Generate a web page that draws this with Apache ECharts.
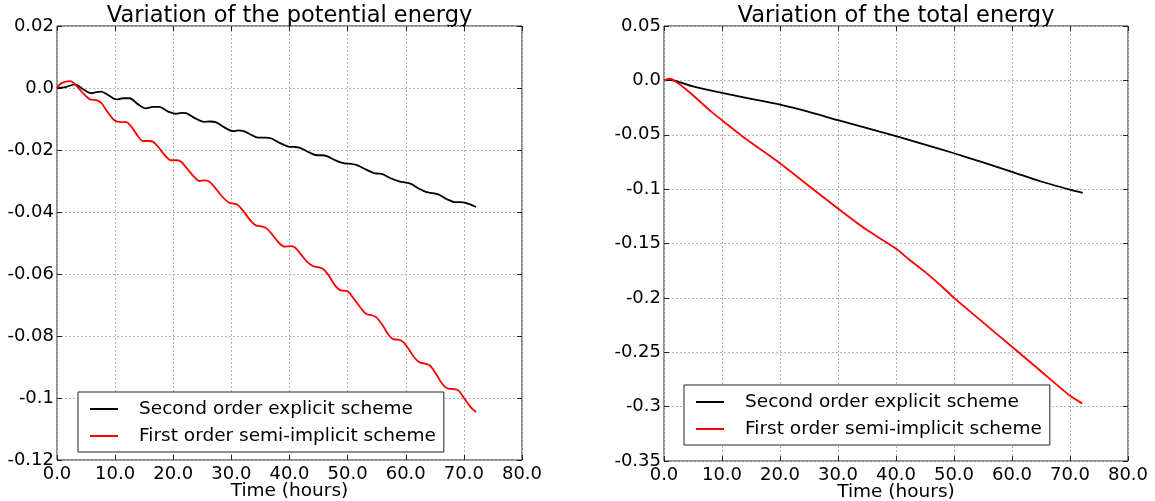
<!DOCTYPE html>
<html>
<head>
<meta charset="utf-8">
<script src="https://cdn.jsdelivr.net/npm/echarts@6/dist/echarts.min.js"></script>
<style>
html,body{margin:0;padding:0;background:#fff;}
#chart{width:1155px;height:501px;}
</style>
</head>
<body>
<div id="chart"></div>
<script>
// ---------- data ----------
const seriesNames = ['Second order explicit scheme', 'First order semi-implicit scheme'];
const titles = ['Variation of the potential energy', 'Variation of the total energy'];
const xAxisName = 'Time (hours)';

const xTickLabels = ['0.0','10.0','20.0','30.0','40.0','50.0','60.0','70.0','80.0'];
const potYTickLabels = ['-0.12','-0.1','-0.08','-0.06','-0.04','-0.02','0.0','0.02'];
const totYTickLabels = ['-0.35','-0.3','-0.25','-0.2','-0.15','-0.1','-0.05','0.0','0.05'];

// potential energy, second order explicit scheme
const potExplicitT = [0,1.5,3.1,4.5,5.9,6.8,7.6,8.9,10.2,11.4,12.5,13.9,15.3,16.5,17.6,19.0,20.5,21.4,22.2,23.8,25.3,26.3,27.3,28.8,30.3,31.2,32.0,33.3,34.6,35.8,36.9,38.4,39.8,40.8,41.8,43.3,44.7,45.6,46.4,48.0,49.5,50.6,51.6,53.3,54.6,55.3,56.0,57.5,59.0,60.0,61.0,62.3,63.6,64.6,65.6,67.0,68.5,69.3,70.2,72.1];
const potExplicitV = [0,0.0003,0.0012,-0.0004,-0.0017,-0.0013,-0.0012,-0.0024,-0.0037,-0.0033,-0.0033,-0.0052,-0.0066,-0.0061,-0.0061,-0.0075,-0.0083,-0.0080,-0.0081,-0.0098,-0.0109,-0.0108,-0.0110,-0.0127,-0.0139,-0.0137,-0.0138,-0.0150,-0.0160,-0.0160,-0.0163,-0.0178,-0.0189,-0.0190,-0.0193,-0.0207,-0.0217,-0.0217,-0.0220,-0.0234,-0.0243,-0.0245,-0.0249,-0.0264,-0.0275,-0.0276,-0.0278,-0.0292,-0.0302,-0.0305,-0.0310,-0.0325,-0.0336,-0.0339,-0.0343,-0.0358,-0.0368,-0.0368,-0.0370,-0.0384];

// potential energy, first order semi-implicit scheme
const potImplicitT = [0,0.7,2.3,3.1,4.4,5.6,6.9,7.7,8.8,9.9,11.0,11.9,12.8,13.8,14.8,15.7,16.5,17.5,18.6,19.6,20.5,21.3,22.3,23.5,24.5,25.4,26.2,27.2,28.4,29.6,30.4,31.1,32.1,33.3,34.3,35.2,36.0,37.0,38.2,39.2,40.1,40.9,41.9,43.1,44.1,45.0,45.8,46.8,47.8,48.7,49.5,50.1,51.2,52.4,53.2,54.1,54.9,55.9,57.0,57.8,58.7,59.5,60.5,61.5,62.4,63.3,64.2,65.2,66.3,67.3,68.2,69.1,70.1,71.2,72.1];
const potImplicitV = [0,0.0015,0.0022,0.0012,-0.0015,-0.0036,-0.0040,-0.0050,-0.0080,-0.0105,-0.0110,-0.0110,-0.0125,-0.0152,-0.0171,-0.0171,-0.0173,-0.0192,-0.0218,-0.0233,-0.0233,-0.0237,-0.0258,-0.0285,-0.0300,-0.0298,-0.0302,-0.0322,-0.0350,-0.0370,-0.0373,-0.0377,-0.0398,-0.0428,-0.0444,-0.0446,-0.0452,-0.0472,-0.0500,-0.0512,-0.0510,-0.0514,-0.0535,-0.0562,-0.0575,-0.0578,-0.0584,-0.0606,-0.0636,-0.0652,-0.0654,-0.0657,-0.0683,-0.0713,-0.0729,-0.0733,-0.0739,-0.0762,-0.0795,-0.0810,-0.0812,-0.0818,-0.0842,-0.0870,-0.0885,-0.0889,-0.0896,-0.0922,-0.0955,-0.0970,-0.0971,-0.0976,-0.1002,-0.1030,-0.1045];

// total energy, second order explicit scheme
const totExplicitT = [0,1,2,5,10,15,20,25,30,35,40,45,50,55,60,65,70,72.2];
const totExplicitV = [0,0.0002,-0.0005,-0.0055,-0.0116,-0.0170,-0.0223,-0.0290,-0.0366,-0.0438,-0.0512,-0.0590,-0.0670,-0.0755,-0.0841,-0.0930,-0.1005,-0.1035];

// total energy, first order semi-implicit scheme
const totImplicitT = [0,0.9,1.9,3.5,5,8.2,10,13.6,20,25.1,30.1,34.8,40.1,42.3,45.2,48,50,55,60,65,70,72.1];
const totImplicitV = [0,0.0015,-0.0006,-0.0070,-0.0137,-0.0290,-0.0366,-0.0518,-0.0762,-0.0976,-0.1183,-0.1370,-0.1550,-0.1650,-0.1770,-0.1900,-0.2000,-0.2225,-0.2450,-0.2675,-0.2900,-0.2970];

// ---------- chart ----------
const FONT = 'DejaVu Sans';
const pair = (t, v) => t.map((x, i) => [x, v[i]]);
const labelFmt = (labels, min, step) => v => labels[Math.round((v - min) / step)] ?? '';

const gridStyle = {show: true, borderColor: '#222', borderWidth: 1, backgroundColor: 'rgba(0,0,0,0)',
  containLabel: false, outerBoundsMode: 'none'};
const grids = [
  Object.assign({left: 57, top: 26, width: 465, height: 434}, gridStyle),
  Object.assign({left: 664, top: 26, width: 464, height: 435}, gridStyle)
];

function xAxes(gi) {
  const base = {gridIndex: gi, type: 'value', min: 0, max: 80, interval: 10,
    axisLine: {show: false, onZero: false},
    axisTick: {show: true, inside: true, length: 5, lineStyle: {color: '#222'}}};
  return [
    Object.assign({}, base, {position: 'bottom',
      name: xAxisName, nameLocation: 'middle', nameGap: 31, nameMoveOverlap: false,
      nameTextStyle: {fontFamily: FONT, fontSize: 18.5, color: '#000', verticalAlign: 'middle'},
      axisLabel: {show: true, margin: 5, fontFamily: FONT, fontSize: 18, color: '#000',
        formatter: labelFmt(xTickLabels, 0, 10)},
      splitLine: {show: true, lineStyle: {color: '#b5b5b5', width: 1, type: [2, 2]}}}),
    Object.assign({}, base, {position: 'top', axisLabel: {show: false}, splitLine: {show: false}})
  ];
}
function yAxes(gi, min, max, step, labels) {
  const base = {gridIndex: gi, type: 'value', min: min, max: max, interval: step,
    axisLine: {show: false, onZero: false},
    axisTick: {show: true, inside: true, length: 5, lineStyle: {color: '#222'}}};
  return [
    Object.assign({}, base, {position: 'left',
      axisLabel: {show: true, margin: 3, fontFamily: FONT, fontSize: 18, color: '#000',
        formatter: labelFmt(labels, min, step)},
      splitLine: {show: true, lineStyle: {color: '#b5b5b5', width: 1, type: [2, 2]}}}),
    Object.assign({}, base, {position: 'right', axisLabel: {show: false}, splitLine: {show: false}})
  ];
}

function lineSeries(name, color, xi, yi, data, smooth) {
  return {name: name, type: 'line', xAxisIndex: xi, yAxisIndex: yi, data: data,
    symbol: 'none', showSymbol: false, smooth: smooth,
    lineStyle: {color: color, width: 1.8}, itemStyle: {color: color}, z: 3};
}

function legendAt(left, top) {
  return {left: left, top: top, orient: 'vertical',
    data: seriesNames.map(n => ({name: n, icon: 'rect'})),
    itemWidth: 28, itemHeight: 2, itemGap: 7,
    padding: [7, 8, 6, 12],
    borderColor: '#222', borderWidth: 1, backgroundColor: '#fff',
    selectedMode: false,
    textStyle: {fontFamily: FONT, fontSize: 18.5, color: '#000', lineHeight: 20, padding: [0, 0, 0, 16]}};
}

const option = {
  animation: false,
  backgroundColor: '#fff',
  grid: grids,
  xAxis: [...xAxes(0), ...xAxes(1)],
  yAxis: [...yAxes(0, -0.12, 0.02, 0.02, potYTickLabels), ...yAxes(1, -0.35, 0.05, 0.05, totYTickLabels)],
  legend: [legendAt(78, 392), legendAt(684, 385)],
  graphic: [
    {type: 'text', x: 289.5, y: 16.5, style: {text: titles[0], fontFamily: FONT, fontSize: 22.5, fill: '#000', align: 'center', verticalAlign: 'middle'}},
    {type: 'text', x: 896, y: 16.5, style: {text: titles[1], fontFamily: FONT, fontSize: 22.5, fill: '#000', align: 'center', verticalAlign: 'middle'}}
  ],
  series: [
    lineSeries(seriesNames[0], '#000000', 0, 0, pair(potExplicitT, potExplicitV), 0.3),
    lineSeries(seriesNames[1], '#ff0000', 0, 0, pair(potImplicitT, potImplicitV), 0.3),
    lineSeries(seriesNames[0], '#000000', 2, 2, pair(totExplicitT, totExplicitV), 0.2),
    lineSeries(seriesNames[1], '#ff0000', 2, 2, pair(totImplicitT, totImplicitV), 0.2)
  ]
};

const chart = echarts.init(document.getElementById('chart'), null, {renderer: 'canvas'});
chart.setOption(option);
</script>
</body>
</html>
